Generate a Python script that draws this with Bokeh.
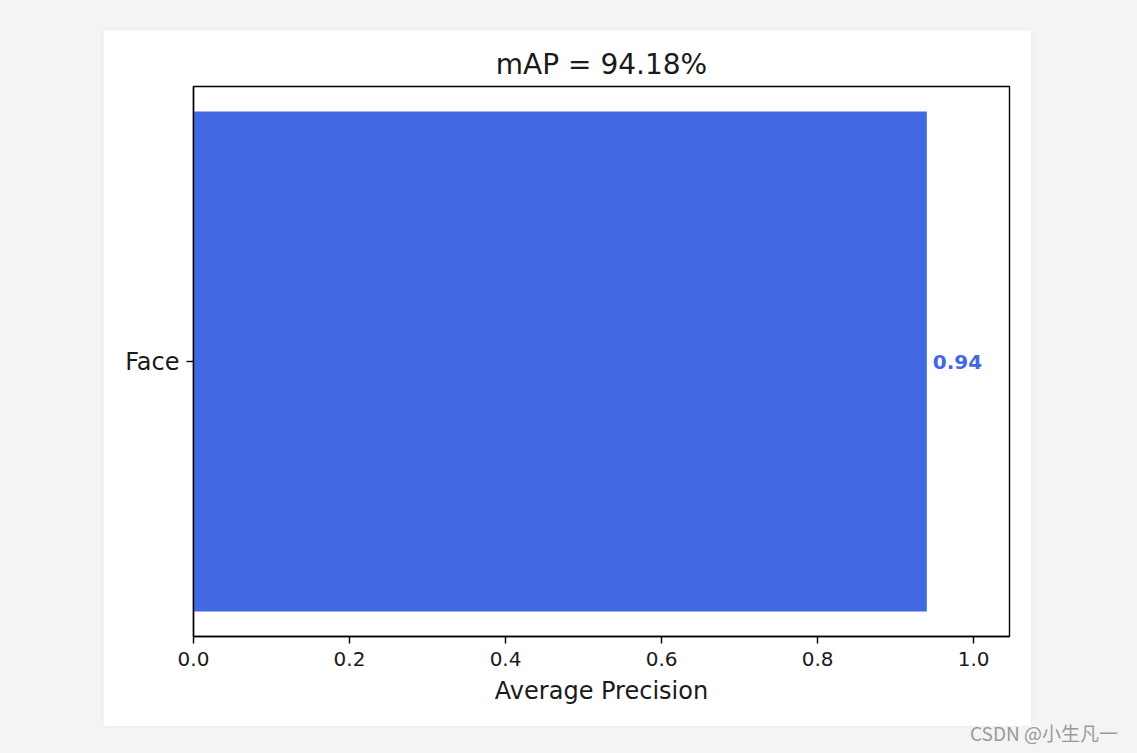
from bokeh.plotting import figure
from bokeh.models import Range1d, FixedTicker, PrintfTickFormatter, Spacer, Div, ColumnDataSource
from bokeh.layouts import column, row
from bokeh.embed import file_html
from bokeh.resources import INLINE
from bokeh.core.properties import value

# ---- data ----
categories = ["Face"]
ap_values = [0.94]
mAP = 94.18
x_ticks = [0.0, 0.2, 0.4, 0.6, 0.8, 1.0]

FONT = "DejaVu Sans"
y_pos = list(range(len(categories)))

p = figure(width=928, height=696, output_backend="svg", toolbar_location=None,
           x_range=Range1d(0, 1.046), y_range=Range1d(-0.44, 0.44),
           min_border_left=90, min_border_right=22, min_border_top=56, min_border_bottom=90,
           title="mAP = {:.2f}%".format(mAP),
           styles={"box-shadow": "0 0 4px rgba(0,0,0,0.06)"})
p.background_fill_color = "white"
p.border_fill_color = "white"
p.outline_line_color = "black"
p.outline_line_width = 1.4
p.xgrid.visible = False
p.ygrid.visible = False

src = ColumnDataSource(dict(y=y_pos, right=ap_values,
                            label=["{:.2f}".format(v) for v in ap_values]))
p.hbar(y="y", left=0, right="right", height=0.8, source=src,
       fill_color="#4169E1", line_color=None)
p.text(x="right", y="y", text="label", source=src, x_offset=6,
       text_font=value(FONT), text_font_size="20px", text_font_style="bold",
       text_color="#4169E1", text_baseline="middle", text_align="left")

p.title.text_font = FONT
p.title.text_font_size = "28px"
p.title.text_font_style = "normal"
p.title.align = "center"
p.title.text_color = "#1a1a1a"
p.title.standoff = 11

for ax in (p.xaxis[0], p.yaxis[0]):
    ax.axis_line_color = "black"
    ax.axis_line_width = 1.4
    ax.major_tick_line_color = "black"
    ax.major_tick_line_width = 1.4
    ax.major_tick_in = 0
    ax.major_tick_out = 7
    ax.minor_tick_line_color = None
    ax.major_label_text_font = FONT
    ax.major_label_text_color = "#1a1a1a"
    ax.major_label_standoff = 8

p.xaxis.ticker = FixedTicker(ticks=x_ticks)
p.xaxis.formatter = PrintfTickFormatter(format="%.1f")
p.xaxis.major_label_text_font_size = "20px"
p.xaxis.axis_label = "Average Precision"
p.xaxis.axis_label_text_font = FONT
p.xaxis.axis_label_text_font_size = "24px"
p.xaxis.axis_label_text_font_style = "normal"
p.xaxis.axis_label_text_color = "#1a1a1a"
p.xaxis.axis_label_standoff = 8

p.yaxis.ticker = FixedTicker(ticks=y_pos)
p.yaxis.major_label_overrides = {i: c for i, c in zip(y_pos, categories)}
p.yaxis.major_label_text_font_size = "24px"
p.yaxis.major_label_standoff = 7

wm = Div(text="CSDN @小生凡一", width=170, height=20, margin=0,
         styles={"font-family": "Noto Sans CJK SC", "font-size": "19px",
                 "color": "#9a9a9a", "line-height": "13px"})

layout = column(Spacer(height=30, width=10),
                row(Spacer(width=103, height=10), p),
                row(Spacer(width=970, height=10), wm))

html = file_html(layout, INLINE)
html = html.replace("</head>", "<style>html, body { background: #f4f4f4; }</style></head>", 1)
open("out.html", "w").write(html)
